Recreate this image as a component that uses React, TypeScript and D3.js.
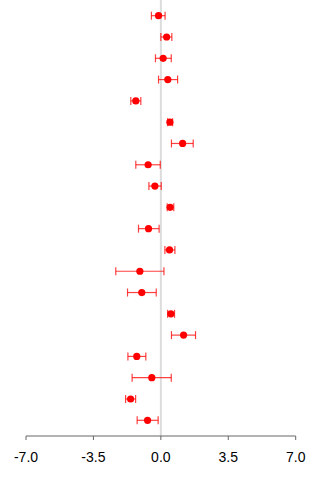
import React from "react";
import * as d3 from "d3";

// Point estimates with lower/upper interval bounds, top to bottom
const estimates = [-0.12, 0.3, 0.12, 0.36, -1.3, 0.47, 1.13, -0.66, -0.31, 0.48, -0.64, 0.45, -1.09, -0.99, 0.52, 1.18, -1.25, -0.47, -1.57, -0.69];
const lower = [-0.49, 0.0, -0.28, -0.12, -1.56, 0.35, 0.55, -1.3, -0.62, 0.33, -1.16, 0.21, -2.34, -1.73, 0.35, 0.55, -1.71, -1.49, -1.83, -1.23];
const upper = [0.22, 0.57, 0.54, 0.87, -1.04, 0.61, 1.68, -0.03, 0.02, 0.67, -0.09, 0.73, 0.16, -0.24, 0.71, 1.8, -0.78, 0.54, -1.31, -0.14];
const tickValues = [-7, -3.5, 0, 3.5, 7];
const tickLabels = ["-7.0", "-3.5", "0.0", "3.5", "7.0"];

const W = 320;
const H = 480;
const axisY = 436;

export default function App() {
  const x = d3.scaleLinear().domain([-7, 7]).range([26, 295.7]);
  const y = d3.scaleLinear().domain([0, estimates.length - 1]).range([15.7, 420.3]);
  const cap = 4;

  return (
    <svg
      width={W}
      height={H}
      style={{ position: "absolute", left: 0, top: 0, background: "#fff" }}
      fontFamily="'Liberation Sans', Arial, sans-serif"
    >
      {/* reference line at zero */}
      <line x1={x(0)} x2={x(0)} y1={0} y2={axisY} stroke="#dcdcdc" strokeWidth={2} />

      {estimates.map((v, i) => {
        const cy = y(i);
        const x0 = x(lower[i]);
        const x1 = x(upper[i]);
        return (
          <g key={i}>
            <line x1={x0} x2={x1} y1={cy} y2={cy} stroke="#ff0000" strokeOpacity={0.75} strokeWidth={1.2} />
            <line x1={x0} x2={x0} y1={cy - cap} y2={cy + cap} stroke="#ff0000" strokeOpacity={0.75} strokeWidth={1.2} />
            <line x1={x1} x2={x1} y1={cy - cap} y2={cy + cap} stroke="#ff0000" strokeOpacity={0.75} strokeWidth={1.2} />
            <circle cx={x(v)} cy={cy} r={3.6} fill="#ff0000" />
          </g>
        );
      })}

      {/* x axis */}
      <line x1={x(-7)} x2={x(7)} y1={axisY} y2={axisY} stroke="#666" strokeWidth={1} />
      {tickValues.map((t, i) => (
        <g key={t}>
          <line x1={x(t)} x2={x(t)} y1={axisY} y2={axisY + 4} stroke="#666" strokeWidth={1} />
          <text x={x(t)} y={462} textAnchor="middle" fontSize={14} fill="#000">
            {tickLabels[i]}
          </text>
        </g>
      ))}
    </svg>
  );
}
